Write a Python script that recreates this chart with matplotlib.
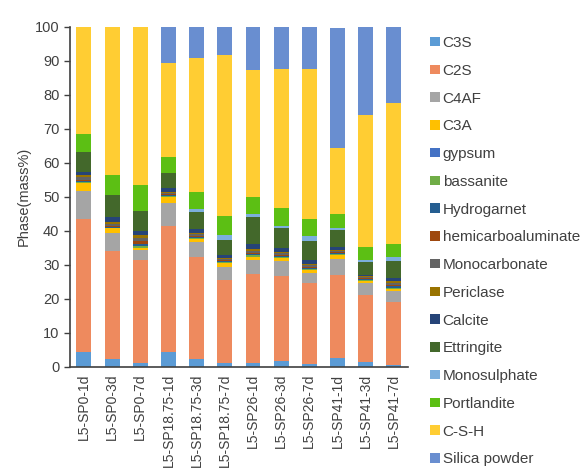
import numpy as np
import matplotlib
matplotlib.use("Agg")
import matplotlib.pyplot as plt

plt.rcParams['font.family'] = ['Liberation Sans', 'DejaVu Sans']

samples = ['L5-SP0-1d', 'L5-SP0-3d', 'L5-SP0-7d',
           'L5-SP18.75-1d', 'L5-SP18.75-3d', 'L5-SP18.75-7d',
           'L5-SP26-1d', 'L5-SP26-3d', 'L5-SP26-7d',
           'L5-SP41-1d', 'L5-SP41-3d', 'L5-SP41-7d']

# phase contents in mass%, one list per phase (bottom to top of each bar)
C3S = [4.3, 2.3, 1.0, 4.4, 2.3, 1.0, 1.2, 1.7, 0.7, 2.6, 1.5, 0.5]
C2S = [39.1, 31.7, 30.4, 37.0, 30.1, 24.4, 26.1, 24.9, 23.8, 24.5, 19.7, 18.7]
C4AF = [8.3, 5.2, 3.0, 6.8, 4.3, 4.0, 4.1, 4.5, 3.1, 4.7, 3.5, 3.0]
C3A = [2.2, 1.5, 0.6, 1.8, 1.0, 1.0, 1.0, 1.0, 0.8, 1.2, 0.4, 0.6]
gypsum = [0.0, 0.0, 0.0, 0.0, 0.0, 0.0, 0.0, 0.0, 0.0, 0.0, 0.0, 0.0]
bassanite = [0.3, 0.2, 0.5, 0.2, 0.3, 0.4, 0.5, 0.3, 0.4, 0.3, 0.3, 0.5]
hydrogarnet = [0.5, 0.3, 0.6, 0.3, 0.3, 0.3, 0.4, 0.3, 0.3, 0.2, 0.3, 0.4]
hemicarbo = [0.2, 0.3, 1.0, 0.2, 0.2, 0.2, 0.3, 0.3, 0.3, 0.2, 0.3, 0.4]
monocarbonate = [0.8, 0.6, 0.8, 0.4, 0.5, 0.4, 0.5, 0.4, 0.4, 0.3, 0.3, 0.6]
periclase = [0.8, 0.5, 0.8, 0.4, 0.4, 0.4, 0.4, 0.3, 0.3, 0.3, 0.3, 0.4]
calcite = [0.8, 1.5, 1.2, 1.0, 1.0, 0.9, 1.5, 1.3, 1.3, 0.8, 0.5, 1.0]
ettringite = [5.7, 6.4, 6.0, 4.6, 5.2, 4.3, 7.9, 5.7, 5.7, 5.0, 3.7, 5.0]
monosulphate = [0.0, 0.0, 0.0, 0.0, 0.7, 1.5, 1.0, 0.8, 1.3, 0.6, 0.6, 1.2]
portlandite = [5.4, 5.9, 7.5, 4.7, 5.2, 5.5, 4.9, 5.1, 5.0, 4.3, 3.9, 3.9]
CSH = [31.6, 43.6, 46.6, 27.4, 39.2, 47.2, 37.5, 40.9, 44.1, 19.4, 38.6, 41.4]
silica = [0.0, 0.0, 0.0, 10.8, 9.3, 8.5, 12.7, 12.5, 12.5, 35.3, 26.1, 22.4]

phases = ['C3S', 'C2S', 'C4AF', 'C3A', 'gypsum', 'bassanite', 'Hydrogarnet',
          'hemicarboaluminate', 'Monocarbonate', 'Periclase', 'Calcite',
          'Ettringite', 'Monosulphate', 'Portlandite', 'C-S-H', 'Silica powder']
values = [C3S, C2S, C4AF, C3A, gypsum, bassanite, hydrogarnet, hemicarbo,
          monocarbonate, periclase, calcite, ettringite, monosulphate,
          portlandite, CSH, silica]
colors = ['#5B9BD5', '#EE8A5E', '#A5A5A5', '#FFC000', '#4472C4', '#70AD47',
          '#255E91', '#9E480E', '#636363', '#997300', '#264478', '#43682B',
          '#7CAFDD', '#5CBF14', '#FFCD33', '#698ED0']

fig = plt.figure(figsize=(5.82, 4.74), dpi=100)
ax = fig.add_axes([0.120, 0.226, 0.581, 0.718])

x = np.arange(len(samples))
bottom = np.zeros(len(samples))
for name, vals, col in zip(phases, values, colors):
    ax.bar(x, vals, 0.53, bottom=bottom, color=col, label=name, linewidth=0)
    bottom += np.array(vals)

ax.set_xlim(-0.5, len(samples) - 0.5)
ax.set_ylim(0, 100)
ax.set_yticks(np.arange(0, 101, 10))
ax.set_xticks(x)
ax.set_xticklabels(samples, rotation=90, fontsize=10, color='#404040')
ax.tick_params(axis='y', labelsize=10.5, labelcolor='#404040', color='#404040',
               length=4, width=1)
ax.tick_params(axis='x', length=0, pad=5)
ax.set_ylabel('Phase(mass%)', fontsize=10.5, color='#404040', labelpad=3)

for s in ['top', 'right']:
    ax.spines[s].set_visible(False)
ax.spines['left'].set_color('#404040')
ax.spines['bottom'].set_color('#404040')
ax.spines['left'].set_linewidth(1.2)
ax.spines['bottom'].set_linewidth(1.2)

fig.legend(loc='upper left', bbox_to_anchor=(0.716, 0.953), frameon=False,
           fontsize=11, handlelength=0.6, handleheight=0.6, handletextpad=0.2,
           labelspacing=0.90, labelcolor='#404040')

fig.savefig('out.png', dpi=100)
